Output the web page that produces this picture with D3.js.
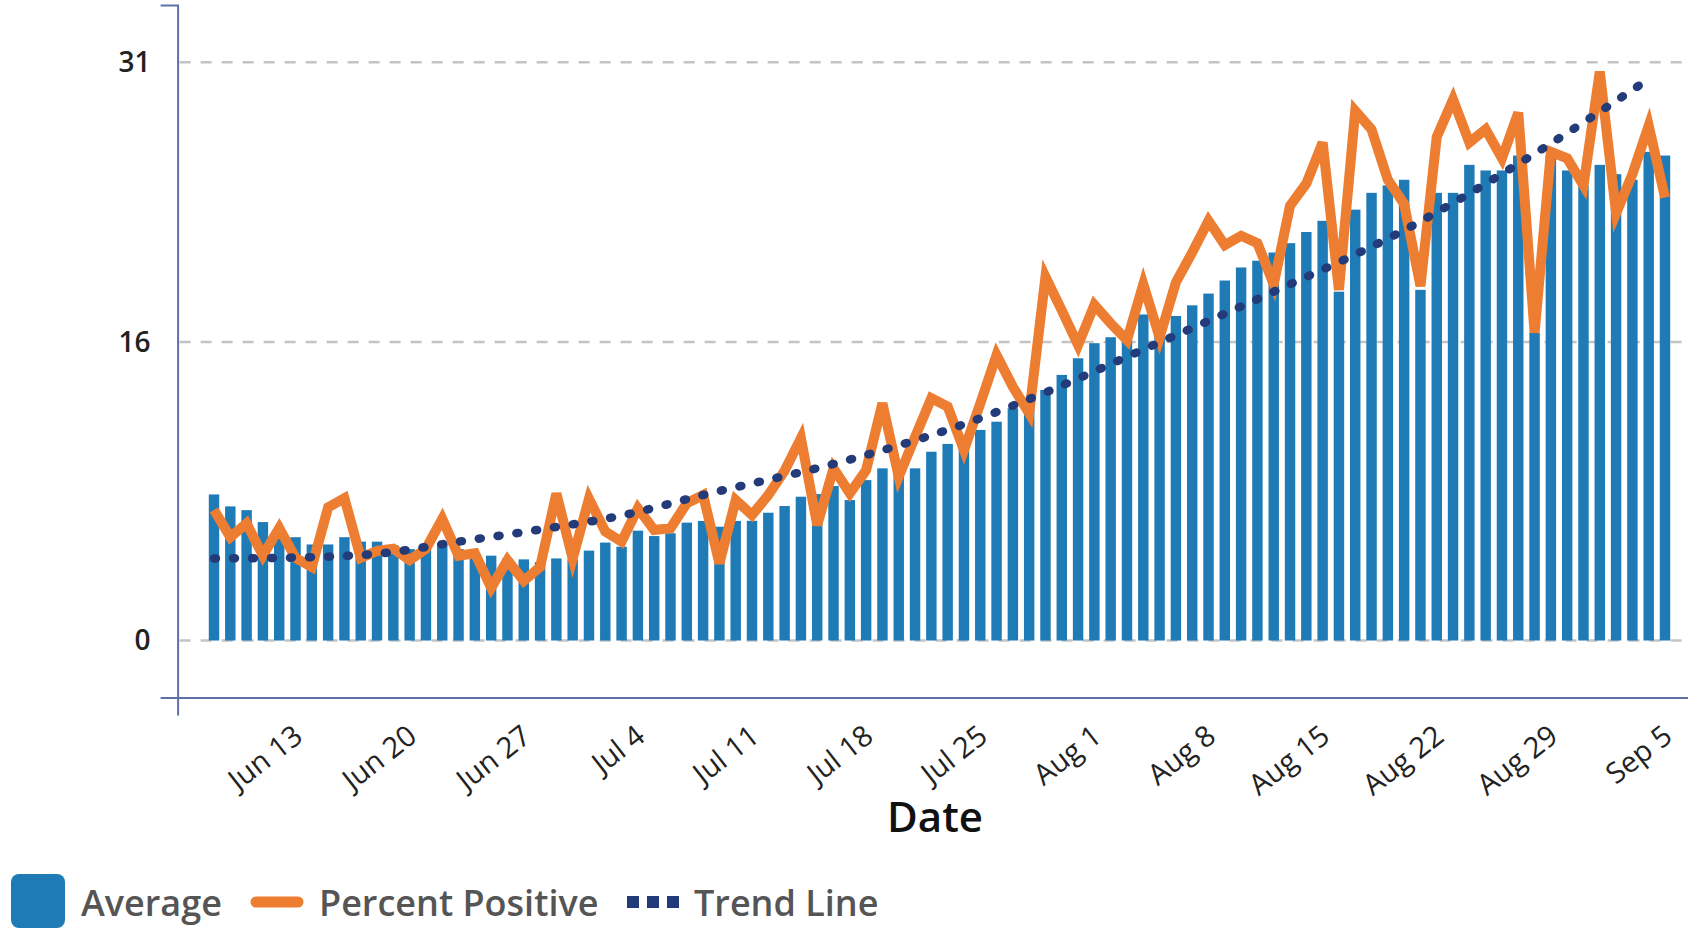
<!DOCTYPE html>
<html>
<head>
<meta charset="utf-8">
<script src="https://cdn.jsdelivr.net/npm/d3@7"></script>
<style>
    body { margin: 0; background: #fff; }
    text { font-family: 'Open Sans', sans-serif; }
</style>
</head>
<body>
<div class="canvas"></div>
<script>

// one bar per day, Jun 8 - Sep 5
const days = d3.timeDay.range(new Date(2020, 5, 8), new Date(2020, 8, 6));

// 7 day average (bars)
const averageVals = [
    7.83, 7.19, 6.99, 6.35, 5.9, 5.54, 5.15, 5.15, 5.54, 5.3,
    5.3, 5.1, 4.9, 4.9, 5.2, 4.9, 4.7, 4.55, 4.4, 4.35,
    4.2, 4.4, 4.35, 4.82, 5.25, 5.03, 5.89, 5.6, 5.75, 6.32,
    6.41, 6.1, 6.41, 6.42, 6.85, 7.21, 7.71, 7.85, 8.28, 7.53,
    8.6, 9.23, 9.1, 9.23, 10.12, 10.54, 10.3, 11.29, 11.73, 12.45,
    12.8, 13.43, 14.24, 15.13, 15.94, 16.26, 16.1, 17.48, 17.0, 17.4,
    17.97, 18.6, 19.3, 20.0, 20.36, 20.8, 21.3, 21.9, 22.5, 18.7,
    23.1, 24.0, 24.4, 24.7, 18.8, 24.0, 24.0, 25.5, 25.2, 25.2,
    26.0, 16.5, 26.0, 25.2, 24.4, 25.5, 25.0, 24.7, 26.2, 26.0
];

// daily percent positive (orange line)
const percentVals = [
    7.0, 5.54, 6.28, 4.55, 6.03, 4.43, 3.94, 7.14, 7.63, 4.43,
    4.8, 4.92, 4.31, 4.92, 6.52, 4.55, 4.68, 2.83, 4.31, 3.2,
    3.94, 7.88, 4.4, 7.6, 5.84, 5.3, 7.09, 5.93, 6.02, 7.36,
    7.8, 4.14, 7.53, 6.73, 7.8, 9.1, 10.84, 6.19, 9.23, 7.89,
    9.14, 12.72, 8.78, 10.9, 12.99, 12.54, 10.21, 12.7, 15.3, 13.6,
    12.18, 19.5, 17.7, 15.84, 17.99, 17.0, 16.1, 19.1, 16.25, 19.2,
    20.8, 22.5, 21.2, 21.7, 21.3, 19.1, 23.3, 24.5, 26.7, 18.8,
    28.4, 27.4, 24.7, 23.4, 19.0, 27.0, 29.0, 26.7, 27.4, 25.85,
    28.3, 16.5, 26.2, 25.85, 24.4, 30.5, 22.9, 25.0, 27.6, 23.75
];

// trend line, read at a few dates
const trendDates = ['2020-06-08', '2020-06-13', '2020-06-18', '2020-06-23', '2020-06-28',
    '2020-07-03', '2020-07-08', '2020-07-17', '2020-07-24', '2020-07-29', '2020-08-04',
    '2020-08-12', '2020-08-20', '2020-08-28', '2020-09-04'];
const trendVals = [4.4, 4.45, 4.65, 5.3, 5.95, 6.7, 7.8, 9.7, 11.6, 13.3, 15.6, 18.7, 22.0, 26.1, 30.1];

const yTicks = [0, 16, 31];
const xTickLabels = ['Jun 13', 'Jun 20', 'Jun 27', 'Jul 4', 'Jul 11', 'Jul 18', 'Jul 25',
    'Aug 1', 'Aug 8', 'Aug 15', 'Aug 22', 'Aug 29', 'Sep 5'];

const legendItems = ['Average', 'Percent Positive', 'Trend Line'];

const colors = { bar: '#1f7bb6', line: '#ed7d31', trend: '#243b7a', axis: '#5d70a8' };

const W = 1688, H = 930;
const axisX = 177.6, axisY = 697.6;

const svg = d3.select('.canvas')
    .append('svg')
    .attr('width', W)
    .attr('height', H);

// scales
const y = d3.scaleLinear()
    .domain([-3.06, 34.07])
    .range([axisY, 5]);

const x = d3.scaleBand()
    .domain(days)
    .range([205.85, 1673.15])
    .paddingInner(0.36)
    .paddingOuter(0.18);

const bw = x.bandwidth();
const fmt = d3.timeFormat('%b %-d');
const parse = d3.timeParse('%Y-%m-%d');

// dashed gridlines
svg.append('g')
    .selectAll('line')
    .data(yTicks)
    .join('line')
    .attr('x1', axisX + 2)
    .attr('x2', W)
    .attr('y1', d => y(d))
    .attr('y2', d => y(d))
    .attr('stroke', '#c4c4c4')
    .attr('stroke-width', 2.5)
    .attr('stroke-dasharray', '11 10');

// bars
svg.append('g')
    .selectAll('rect')
    .data(averageVals)
    .join('rect')
    .attr('x', (d, i) => x(days[i]))
    .attr('y', d => y(d))
    .attr('width', bw)
    .attr('height', d => y(0) - y(d))
    .attr('fill', colors.bar);

// percent positive line
const line = d3.line()
    .x((d, i) => x(days[i]) + bw / 2)
    .y(d => y(d));

svg.append('path')
    .datum(percentVals)
    .attr('d', line)
    .attr('fill', 'none')
    .attr('stroke', colors.line)
    .attr('stroke-width', 10)
    .attr('stroke-linejoin', 'miter');

// trend line (dotted)
const trendLine = d3.line()
    .curve(d3.curveMonotoneX)
    .x((d, i) => x(parse(trendDates[i])) + bw / 2)
    .y(d => y(d));

svg.append('path')
    .datum(trendVals)
    .attr('d', trendLine)
    .attr('fill', 'none')
    .attr('stroke', colors.trend)
    .attr('stroke-width', 8.5)
    .attr('stroke-linecap', 'round')
    .attr('stroke-dasharray', '2 17');

// y axis
const yAxisGroup = svg.append('g')
    .attr('transform', `translate(${axisX}, 0)`)
    .call(d3.axisLeft(y).tickValues(yTicks).tickSizeInner(0).tickSizeOuter(17).tickPadding(27));

yAxisGroup.select('.domain')
    .attr('stroke', colors.axis)
    .attr('stroke-width', 2);
yAxisGroup.selectAll('text')
    .attr('font-size', 28)
    .attr('font-weight', 600)
    .attr('font-family', "'Open Sans', sans-serif")
    .attr('fill', '#222');

// x axis base line
const xLine = d3.scaleLinear().domain([0, 1]).range([axisX, W + 20]);
svg.append('g')
    .attr('transform', `translate(0, ${axisY})`)
    .call(d3.axisBottom(xLine).tickValues([]).tickSizeOuter(18))
    .select('.domain')
        .attr('stroke', colors.axis)
        .attr('stroke-width', 2);

// x tick labels
const tickDays = days.filter(d => xTickLabels.includes(fmt(d)));
const xAxisGroup = svg.append('g')
    .attr('transform', `translate(0, ${axisY})`)
    .call(d3.axisBottom(x).tickValues(tickDays).tickFormat(fmt).tickSize(0));

xAxisGroup.select('.domain').remove();
xAxisGroup.selectAll('text')
    .attr('x', 0)
    .attr('y', 0)
    .attr('dy', 0)
    .attr('transform', 'translate(9, 42) rotate(-38)')
    .attr('text-anchor', 'end')
    .attr('font-size', 29)
    .attr('font-family', "'Open Sans', sans-serif")
    .attr('fill', '#222');

// axis title
svg.append('text')
    .attr('x', 935)
    .attr('y', 832)
    .attr('text-anchor', 'middle')
    .attr('font-size', 42)
    .attr('font-weight', 600)
    .attr('fill', '#111')
    .text('Date');

// legend
const legend = svg.append('g');

legend.append('rect')
    .attr('x', 11).attr('y', 874)
    .attr('width', 54).attr('height', 54)
    .attr('rx', 8)
    .attr('fill', colors.bar);

legend.append('line')
    .attr('x1', 256).attr('x2', 298)
    .attr('y1', 902).attr('y2', 902)
    .attr('stroke', colors.line)
    .attr('stroke-width', 11)
    .attr('stroke-linecap', 'round');

legend.selectAll('.tsq')
    .data([0, 1, 2])
    .join('rect')
    .attr('class', 'tsq')
    .attr('x', d => 627 + d * 20)
    .attr('y', 896)
    .attr('width', 12).attr('height', 12)
    .attr('fill', colors.trend);

legend.selectAll('.ltext')
    .data(legendItems)
    .join('text')
    .attr('class', 'ltext')
    .attr('x', (d, i) => [81, 319, 694][i])
    .attr('y', 916)
    .attr('font-size', 36)
    .attr('font-weight', 600)
    .attr('fill', '#555')
    .text(d => d);

</script>
</body>
</html>
